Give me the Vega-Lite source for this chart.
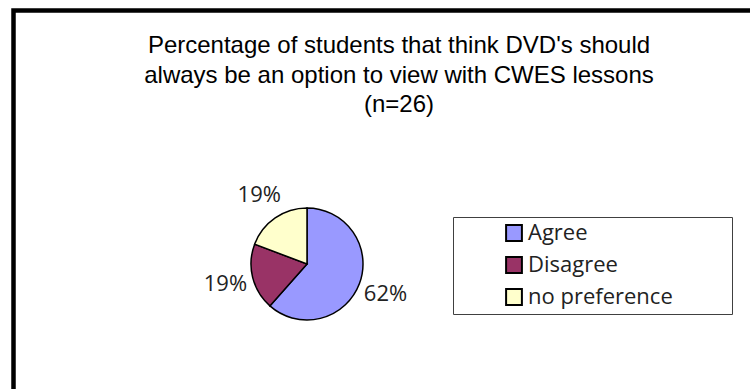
{
  "$schema": "https://vega.github.io/schema/vega-lite/v6.json",
  "width": 112,
  "height": 112,
  "autosize": {"type": "none"},
  "padding": {"left": 251, "top": 208, "right": 387, "bottom": 69},
  "background": "white",
  "config": {"view": {"stroke": null}},
  "title": {
    "text": ["Percentage of students that think DVD's should", "always be an option to view with CWES lessons", "(n=26)"],
    "anchor": "middle",
    "frame": "group",
    "dx": 92,
    "dy": 109,
    "offset": 0,
    "font": "Liberation Sans",
    "fontSize": 24,
    "fontWeight": "normal",
    "color": "#000000",
    "lineHeight": 29.5
  },
  "data": {
    "values": [
      {"response": "Agree", "count": 16, "label": "62%"},
      {"response": "Disagree", "count": 5, "label": "19%"},
      {"response": "no preference", "count": 5, "label": "19%"}
    ]
  },
  "layer": [
    {
      "data": {"values": [{"part": "frame"}]},
      "mark": {"type": "rect", "fill": null, "stroke": "black", "strokeWidth": 4.5, "clip": false},
      "encoding": {
        "x": {"value": -237.5},
        "y": {"value": -197.5},
        "x2": {"value": 600},
        "y2": {"value": 300}
      }
    },
    {
      "mark": {"type": "arc", "stroke": "black", "strokeWidth": 1.5},
      "encoding": {
        "theta": {"field": "count", "type": "quantitative", "stack": true},
        "order": {"field": "response", "sort": "ascending"},
        "color": {
          "field": "response",
          "type": "nominal",
          "scale": {"domain": ["Agree", "Disagree", "no preference"], "range": ["#9999FF", "#993366", "#FFFFCC"]},
          "legend": {
            "orient": "none",
            "legendX": 202,
            "legendY": 9,
            "title": "xxxxxx",
            "titleOrient": "right",
            "titleColor": "transparent",
            "titleFontSize": 12,
            "titlePadding": 13,
            "strokeColor": "#404040",
            "padding": 5,
            "symbolOffset": 45,
            "symbolType": "square",
            "symbolSize": 250,
            "symbolStrokeColor": "black",
            "symbolStrokeWidth": 2,
            "symbolOpacity": 1,
            "labelFont": "Open Sans",
            "labelFontSize": 22,
            "labelColor": "#222222",
            "labelOffset": 3,
            "rowPadding": 8
          }
        }
      }
    },
    {
      "mark": {"type": "text", "radius": 84, "font": "Open Sans", "fontSize": 22, "color": "#222222", "align": "center", "baseline": "middle"},
      "encoding": {
        "theta": {"field": "count", "type": "quantitative", "stack": true},
        "order": {"field": "response", "sort": "ascending"},
        "detail": {"field": "response", "type": "nominal"},
        "text": {"field": "label", "type": "nominal"}
      }
    }
  ]
}
